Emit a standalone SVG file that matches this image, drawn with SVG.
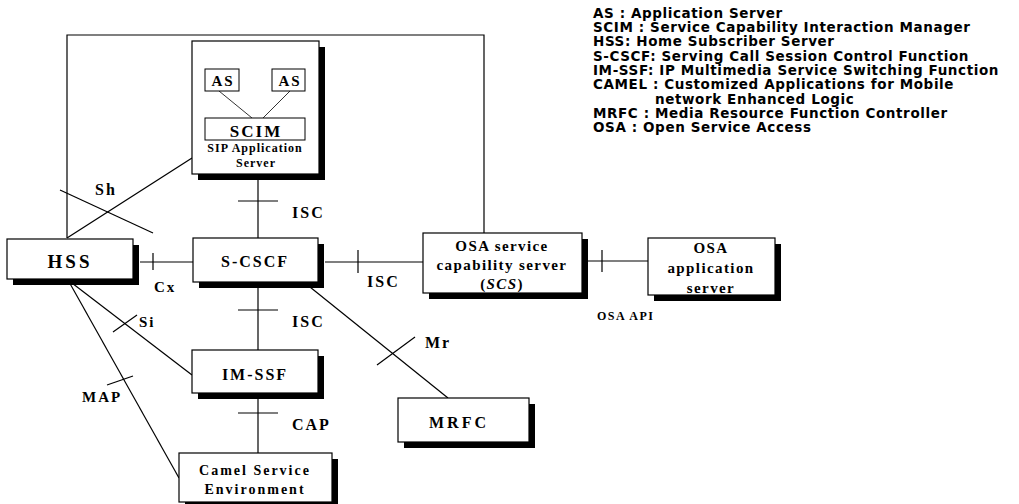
<svg xmlns="http://www.w3.org/2000/svg" width="1019" height="504" viewBox="0 0 1019 504">
<style>
.box{fill:#fff;stroke:#000;stroke-width:1.2}
.sh{fill:#000}
.in{fill:#fff;stroke:#000;stroke-width:1}
.ln{stroke:#000;stroke-width:1.2;fill:none}
.t{font-family:"Liberation Serif",serif;font-weight:bold;fill:#000;text-anchor:middle;letter-spacing:2px}
.lb{font-family:"Liberation Serif",serif;font-weight:bold;fill:#000;font-size:16px;letter-spacing:2px}
.lg{font-family:"DejaVu Sans",sans-serif;font-weight:bold;fill:#000;font-size:13.5px;letter-spacing:0.6px}
</style>
<rect width="1019" height="504" fill="#fff"/>
<g id="connectors">
<polyline class="ln" points="67,238 67,35 484,35 484,233"/>
<line class="ln" x1="67" y1="238" x2="192" y2="158"/>
<line class="ln" x1="60" y1="190" x2="153" y2="233"/>
<line class="ln" x1="258" y1="174" x2="258" y2="238"/>
<line class="ln" x1="238" y1="201" x2="278" y2="201"/>
<line class="ln" x1="140" y1="262" x2="193" y2="262"/>
<line class="ln" x1="153" y1="253" x2="153" y2="270"/>
<line class="ln" x1="325" y1="262" x2="423" y2="262"/>
<line class="ln" x1="358" y1="250" x2="358" y2="273"/>
<line class="ln" x1="258" y1="287" x2="258" y2="350"/>
<line class="ln" x1="238" y1="310" x2="278" y2="310"/>
<line class="ln" x1="258" y1="398" x2="258" y2="453"/>
<line class="ln" x1="238" y1="413" x2="278" y2="413"/>
<line class="ln" x1="68" y1="280" x2="192" y2="375"/>
<line class="ln" x1="113" y1="332" x2="137" y2="315"/>
<line class="ln" x1="68" y1="280" x2="179" y2="478"/>
<line class="ln" x1="107" y1="385" x2="133" y2="376"/>
<line class="ln" x1="305" y1="283" x2="448" y2="398"/>
<line class="ln" x1="377" y1="365" x2="415" y2="337"/>
<line class="ln" x1="588" y1="261" x2="648" y2="261"/>
<line class="ln" x1="602" y1="250" x2="602" y2="272"/>
<text class="lb" x="95" y="195">Sh</text>
<text class="lb" x="292" y="218">ISC</text>
<text class="lb" x="154" y="292" style="font-size:15px">Cx</text>
<text class="lb" x="367" y="287">ISC</text>
<text class="lb" x="292" y="327">ISC</text>
<text class="lb" x="139" y="327" style="font-size:15px">Si</text>
<text class="lb" x="82" y="402" style="font-size:15px">MAP</text>
<text class="lb" x="425" y="348">Mr</text>
<text class="lb" x="292" y="430">CAP</text>
<text class="lb" x="597" y="320" style="font-size:12px;letter-spacing:1.5px">OSA API</text>
</g>
<g id="sip-as">
<rect class="sh" x="198" y="47" width="127" height="133"/>
<rect class="box" x="192" y="41" width="127" height="133"/>
<line class="ln" x1="219" y1="91" x2="252" y2="118" style="stroke-width:0.8"/>
<line class="ln" x1="290" y1="91" x2="263" y2="118" style="stroke-width:0.8"/>
<rect class="in" x="205" y="69" width="34" height="22"/>
<text class="t" x="223" y="86" font-size="15">AS</text>
<rect class="in" x="272" y="69" width="33" height="22"/>
<text class="t" x="290" y="86" font-size="15">AS</text>
<rect class="in" x="205" y="118" width="100" height="22"/>
<text class="t" x="256" y="137" font-size="17">SCIM</text>
<text class="t" x="255" y="152" font-size="12" style="letter-spacing:1px">SIP Application</text>
<text class="t" x="256" y="167" font-size="12" style="letter-spacing:1px">Server</text>
</g>
<g id="hss">
<rect class="sh" x="13" y="245" width="126" height="40"/>
<rect class="box" x="7" y="239" width="126" height="40"/>
<text class="t" x="70" y="268" font-size="19" style="letter-spacing:3px">HSS</text>
</g>
<g id="s-cscf">
<rect class="sh" x="199" y="244" width="125" height="44"/>
<rect class="box" x="193" y="238" width="125" height="44"/>
<text class="t" x="255" y="267" font-size="16">S-CSCF</text>
</g>
<g id="osa-scs">
<rect class="sh" x="429" y="239" width="159" height="60"/>
<rect class="box" x="423" y="233" width="159" height="60"/>
<text class="t" x="502" y="251" font-size="15" style="letter-spacing:1.4px">OSA service</text>
<text class="t" x="502" y="270" font-size="15" style="letter-spacing:1.4px">capability server</text>
<text class="t" x="502" y="289" font-size="15" style="letter-spacing:1.4px">(<tspan font-style="italic">SCS</tspan>)</text>
</g>
<g id="osa-app">
<rect class="sh" x="654" y="244" width="127" height="57"/>
<rect class="box" x="648" y="238" width="127" height="57"/>
<text class="t" x="711" y="253" font-size="15" style="letter-spacing:1.4px">OSA</text>
<text class="t" x="711" y="273" font-size="15" style="letter-spacing:1.4px">application</text>
<text class="t" x="711" y="293" font-size="15" style="letter-spacing:1.4px">server</text>
</g>
<g id="im-ssf">
<rect class="sh" x="198" y="356" width="126" height="43"/>
<rect class="box" x="192" y="350" width="126" height="43"/>
<text class="t" x="255" y="380" font-size="16">IM-SSF</text>
</g>
<g id="mrfc">
<rect class="sh" x="404" y="404" width="131" height="44"/>
<rect class="box" x="398" y="398" width="131" height="44"/>
<text class="t" x="459" y="428" font-size="16" style="letter-spacing:3px">MRFC</text>
</g>
<g id="camel">
<rect class="sh" x="185" y="459" width="153" height="50"/>
<rect class="box" x="179" y="453" width="153" height="49"/>
<text class="t" x="255" y="475" font-size="14" style="letter-spacing:2px">Camel Service</text>
<text class="t" x="255" y="494" font-size="14" style="letter-spacing:2px">Environment</text>
</g>
<g id="legend">
<text class="lg" x="593" y="18">AS : Application Server</text>
<text class="lg" x="593" y="32">SCIM : Service Capability Interaction Manager</text>
<text class="lg" x="593" y="46">HSS: Home Subscriber Server</text>
<text class="lg" x="593" y="61">S-CSCF: Serving Call Session Control Function</text>
<text class="lg" x="593" y="75">IM-SSF: IP Multimedia Service Switching Function</text>
<text class="lg" x="593" y="89">CAMEL : Customized Applications for Mobile</text>
<text class="lg" x="655" y="104">network Enhanced Logic</text>
<text class="lg" x="593" y="118">MRFC : Media Resource Function Controller</text>
<text class="lg" x="593" y="132">OSA : Open Service Access</text>
</g>
</svg>
